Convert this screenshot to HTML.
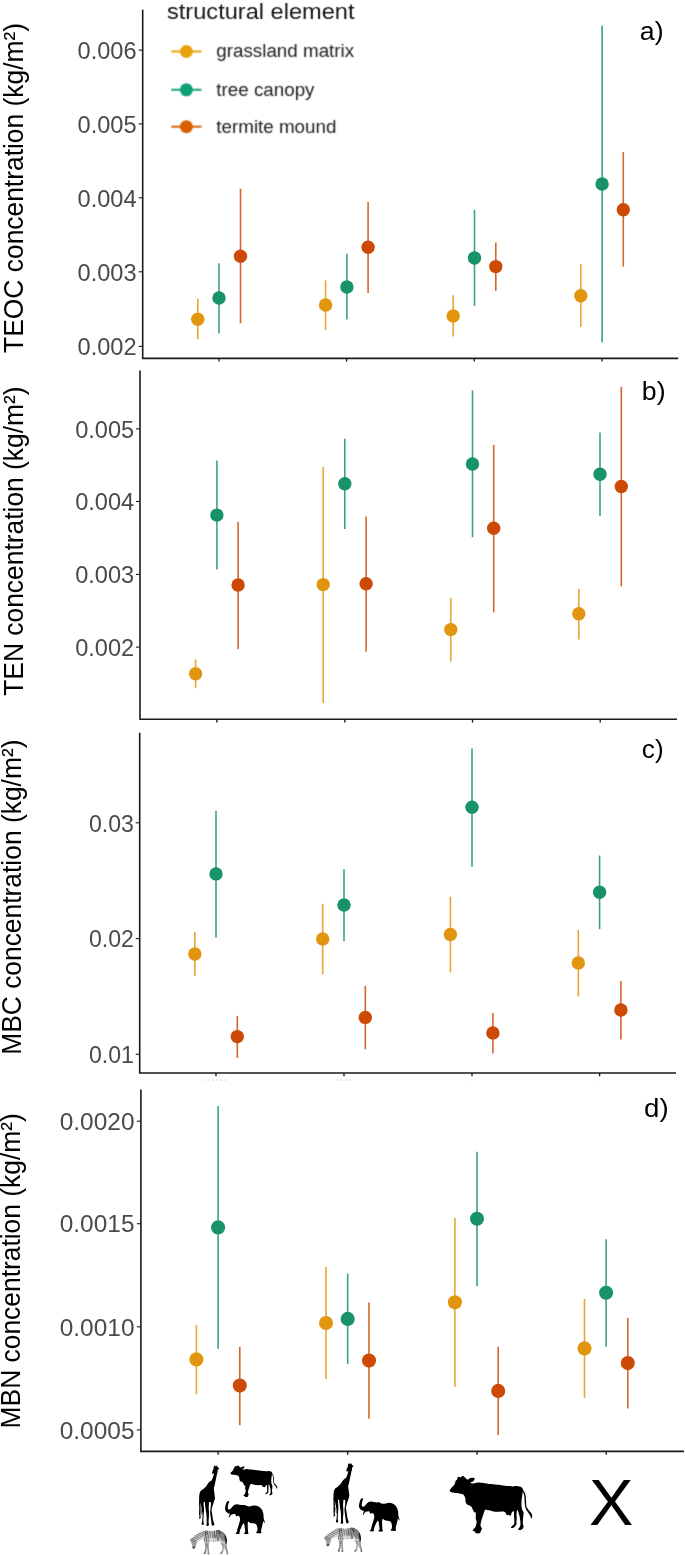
<!DOCTYPE html>
<html><head><meta charset="utf-8"><title>Figure</title>
<style>html,body{margin:0;padding:0;background:#fff;}body{width:685px;height:1556px;overflow:hidden;}svg{display:block;will-change:transform;}text{font-family:"Liberation Sans",sans-serif;}</style>
</head><body>
<svg width="685" height="1556" viewBox="0 0 685 1556">
<rect x="0" y="0" width="685" height="1556" fill="#ffffff"/>
<g id="panel-a">
<path d="M142.7 9.8 V358.4 H678.2" fill="none" stroke="#1a1a1a" stroke-width="1.6" stroke-linejoin="miter"/>
<line x1="219.0" y1="358.4" x2="219.0" y2="361.59999999999997" stroke="#1a1a1a" stroke-width="1.35"/>
<line x1="346.6" y1="358.4" x2="346.6" y2="361.59999999999997" stroke="#1a1a1a" stroke-width="1.35"/>
<line x1="474.3" y1="358.4" x2="474.3" y2="361.59999999999997" stroke="#1a1a1a" stroke-width="1.35"/>
<line x1="602.0" y1="358.4" x2="602.0" y2="361.59999999999997" stroke="#1a1a1a" stroke-width="1.35"/>
<line x1="138.7" y1="50.1" x2="142.7" y2="50.1" stroke="#1a1a1a" stroke-width="1.1"/>
<text transform="translate(136.6 58.8) scale(1.0,1)" font-size="23.6" fill="#4a4a4a" text-anchor="end">0.006</text>
<line x1="138.7" y1="123.9" x2="142.7" y2="123.9" stroke="#1a1a1a" stroke-width="1.1"/>
<text transform="translate(136.6 132.6) scale(1.0,1)" font-size="23.6" fill="#4a4a4a" text-anchor="end">0.005</text>
<line x1="138.7" y1="197.8" x2="142.7" y2="197.8" stroke="#1a1a1a" stroke-width="1.1"/>
<text transform="translate(136.6 206.5) scale(1.0,1)" font-size="23.6" fill="#4a4a4a" text-anchor="end">0.004</text>
<line x1="138.7" y1="271.8" x2="142.7" y2="271.8" stroke="#1a1a1a" stroke-width="1.1"/>
<text transform="translate(136.6 280.5) scale(1.0,1)" font-size="23.6" fill="#4a4a4a" text-anchor="end">0.003</text>
<line x1="138.7" y1="346.4" x2="142.7" y2="346.4" stroke="#1a1a1a" stroke-width="1.1"/>
<text transform="translate(136.6 354.5) scale(1.0,1)" font-size="23.6" fill="#4a4a4a" text-anchor="end">0.002</text>
<text transform="translate(23.2 187.9) rotate(-90) scale(1.0,1.02)" font-size="26.4" fill="#000" text-anchor="middle">TEOC concentration (kg/m²)</text>
<text transform="translate(639.8 40.4) scale(1.0,1)" font-size="26.7" fill="#000">a)</text>
<line x1="197.8" y1="298.8" x2="197.8" y2="339.3" stroke="#E2960F" stroke-width="1.6" stroke-opacity="0.85"/>
<line x1="219.0" y1="263.2" x2="219.0" y2="333.5" stroke="#17926A" stroke-width="1.6" stroke-opacity="0.85"/>
<line x1="240.5" y1="188.8" x2="240.5" y2="323.3" stroke="#CC4A06" stroke-width="1.6" stroke-opacity="0.85"/>
<line x1="325.6" y1="280.4" x2="325.6" y2="329.9" stroke="#E2960F" stroke-width="1.6" stroke-opacity="0.85"/>
<line x1="346.9" y1="253.8" x2="346.9" y2="319.6" stroke="#17926A" stroke-width="1.6" stroke-opacity="0.85"/>
<line x1="368.1" y1="201.9" x2="368.1" y2="293.0" stroke="#CC4A06" stroke-width="1.6" stroke-opacity="0.85"/>
<line x1="453.2" y1="295.2" x2="453.2" y2="336.5" stroke="#E2960F" stroke-width="1.6" stroke-opacity="0.85"/>
<line x1="474.5" y1="209.7" x2="474.5" y2="305.8" stroke="#17926A" stroke-width="1.6" stroke-opacity="0.85"/>
<line x1="495.8" y1="242.4" x2="495.8" y2="290.7" stroke="#CC4A06" stroke-width="1.6" stroke-opacity="0.85"/>
<line x1="580.8" y1="264.1" x2="580.8" y2="327.1" stroke="#E2960F" stroke-width="1.6" stroke-opacity="0.85"/>
<line x1="602.1" y1="25.8" x2="602.1" y2="342.2" stroke="#17926A" stroke-width="1.6" stroke-opacity="0.85"/>
<line x1="623.3" y1="152.1" x2="623.3" y2="266.6" stroke="#CC4A06" stroke-width="1.6" stroke-opacity="0.85"/>
<circle cx="197.8" cy="319.2" r="6.7" fill="#E2960F"/>
<circle cx="219.0" cy="298.0" r="6.7" fill="#17926A"/>
<circle cx="240.5" cy="256.3" r="6.7" fill="#CC4A06"/>
<circle cx="325.6" cy="305.0" r="6.7" fill="#E2960F"/>
<circle cx="346.9" cy="287.0" r="6.7" fill="#17926A"/>
<circle cx="368.1" cy="247.3" r="6.7" fill="#CC4A06"/>
<circle cx="453.2" cy="316.0" r="6.7" fill="#E2960F"/>
<circle cx="474.5" cy="258.0" r="6.7" fill="#17926A"/>
<circle cx="495.8" cy="266.6" r="6.7" fill="#CC4A06"/>
<circle cx="580.8" cy="295.8" r="6.7" fill="#E2960F"/>
<circle cx="602.1" cy="184.0" r="6.7" fill="#17926A"/>
<circle cx="623.3" cy="209.8" r="6.7" fill="#CC4A06"/>
</g>
<g id="panel-b">
<path d="M140.0 370.5 V719.3 H677.0" fill="none" stroke="#1a1a1a" stroke-width="1.6" stroke-linejoin="miter"/>
<line x1="216.9" y1="719.3" x2="216.9" y2="722.5999999999999" stroke="#1a1a1a" stroke-width="1.35"/>
<line x1="344.8" y1="719.3" x2="344.8" y2="722.5999999999999" stroke="#1a1a1a" stroke-width="1.35"/>
<line x1="472.5" y1="719.3" x2="472.5" y2="722.5999999999999" stroke="#1a1a1a" stroke-width="1.35"/>
<line x1="600.2" y1="719.3" x2="600.2" y2="722.5999999999999" stroke="#1a1a1a" stroke-width="1.35"/>
<line x1="136.0" y1="428.9" x2="140.0" y2="428.9" stroke="#1a1a1a" stroke-width="1.1"/>
<text transform="translate(134.2 437.6) scale(1.0,1)" font-size="23.6" fill="#4a4a4a" text-anchor="end">0.005</text>
<line x1="136.0" y1="501.5" x2="140.0" y2="501.5" stroke="#1a1a1a" stroke-width="1.1"/>
<text transform="translate(134.2 510.2) scale(1.0,1)" font-size="23.6" fill="#4a4a4a" text-anchor="end">0.004</text>
<line x1="136.0" y1="574.4" x2="140.0" y2="574.4" stroke="#1a1a1a" stroke-width="1.1"/>
<text transform="translate(134.2 583.1) scale(1.0,1)" font-size="23.6" fill="#4a4a4a" text-anchor="end">0.003</text>
<line x1="136.0" y1="647.1" x2="140.0" y2="647.1" stroke="#1a1a1a" stroke-width="1.1"/>
<text transform="translate(134.2 655.8) scale(1.0,1)" font-size="23.6" fill="#4a4a4a" text-anchor="end">0.002</text>
<text transform="translate(23.2 541.1) rotate(-90) scale(1.0,1.02)" font-size="26.4" fill="#000" text-anchor="middle">TEN concentration (kg/m²)</text>
<text transform="translate(641.8 399.8) scale(1.0,1)" font-size="26.7" fill="#000">b)</text>
<line x1="195.6" y1="659.5" x2="195.6" y2="688.1" stroke="#E2960F" stroke-width="1.6" stroke-opacity="0.85"/>
<line x1="216.9" y1="460.4" x2="216.9" y2="569.5" stroke="#17926A" stroke-width="1.6" stroke-opacity="0.85"/>
<line x1="238.1" y1="521.7" x2="238.1" y2="649.2" stroke="#CC4A06" stroke-width="1.6" stroke-opacity="0.85"/>
<line x1="323.2" y1="466.9" x2="323.2" y2="703.2" stroke="#E2960F" stroke-width="1.6" stroke-opacity="0.85"/>
<line x1="344.8" y1="438.7" x2="344.8" y2="529.0" stroke="#17926A" stroke-width="1.6" stroke-opacity="0.85"/>
<line x1="366.1" y1="516.4" x2="366.1" y2="651.7" stroke="#CC4A06" stroke-width="1.6" stroke-opacity="0.85"/>
<line x1="450.8" y1="598.1" x2="450.8" y2="661.5" stroke="#E2960F" stroke-width="1.6" stroke-opacity="0.85"/>
<line x1="472.5" y1="390.4" x2="472.5" y2="537.2" stroke="#17926A" stroke-width="1.6" stroke-opacity="0.85"/>
<line x1="493.7" y1="444.8" x2="493.7" y2="612.4" stroke="#CC4A06" stroke-width="1.6" stroke-opacity="0.85"/>
<line x1="578.8" y1="588.7" x2="578.8" y2="639.4" stroke="#E2960F" stroke-width="1.6" stroke-opacity="0.85"/>
<line x1="600.0" y1="432.6" x2="600.0" y2="516.0" stroke="#17926A" stroke-width="1.6" stroke-opacity="0.85"/>
<line x1="621.3" y1="386.8" x2="621.3" y2="586.3" stroke="#CC4A06" stroke-width="1.6" stroke-opacity="0.85"/>
<circle cx="195.6" cy="673.8" r="6.7" fill="#E2960F"/>
<circle cx="216.9" cy="515.1" r="6.7" fill="#17926A"/>
<circle cx="238.1" cy="585.0" r="6.7" fill="#CC4A06"/>
<circle cx="323.2" cy="584.6" r="6.7" fill="#E2960F"/>
<circle cx="344.8" cy="483.7" r="6.7" fill="#17926A"/>
<circle cx="366.1" cy="583.8" r="6.7" fill="#CC4A06"/>
<circle cx="450.8" cy="629.6" r="6.7" fill="#E2960F"/>
<circle cx="472.5" cy="464.0" r="6.7" fill="#17926A"/>
<circle cx="493.7" cy="528.2" r="6.7" fill="#CC4A06"/>
<circle cx="578.8" cy="613.7" r="6.7" fill="#E2960F"/>
<circle cx="600.0" cy="474.3" r="6.7" fill="#17926A"/>
<circle cx="621.3" cy="486.5" r="6.7" fill="#CC4A06"/>
</g>
<g id="panel-c">
<path d="M139.7 732.8 V1073.0 H676.0" fill="none" stroke="#1a1a1a" stroke-width="1.6" stroke-linejoin="miter"/>
<line x1="216.0" y1="1073.0" x2="216.0" y2="1076.3" stroke="#1a1a1a" stroke-width="1.35"/>
<line x1="344.0" y1="1073.0" x2="344.0" y2="1076.3" stroke="#1a1a1a" stroke-width="1.35"/>
<line x1="472.0" y1="1073.0" x2="472.0" y2="1076.3" stroke="#1a1a1a" stroke-width="1.35"/>
<line x1="599.6" y1="1073.0" x2="599.6" y2="1076.3" stroke="#1a1a1a" stroke-width="1.35"/>
<line x1="135.7" y1="822.8" x2="139.7" y2="822.8" stroke="#1a1a1a" stroke-width="1.1"/>
<text transform="translate(133.9 831.5) scale(0.98,1)" font-size="23.6" fill="#4a4a4a" text-anchor="end">0.03</text>
<line x1="135.7" y1="938.6" x2="139.7" y2="938.6" stroke="#1a1a1a" stroke-width="1.1"/>
<text transform="translate(133.9 947.3) scale(0.98,1)" font-size="23.6" fill="#4a4a4a" text-anchor="end">0.02</text>
<line x1="135.7" y1="1054.3" x2="139.7" y2="1054.3" stroke="#1a1a1a" stroke-width="1.1"/>
<text transform="translate(133.9 1063.0) scale(0.98,1)" font-size="23.6" fill="#4a4a4a" text-anchor="end">0.01</text>
<text transform="translate(20.75 897.2) rotate(-90) scale(1.0,1.02)" font-size="26.4" fill="#000" text-anchor="middle">MBC concentration (kg/m²)</text>
<text transform="translate(641.8 758.2) scale(0.98,1)" font-size="26.7" fill="#000">c)</text>
<line x1="194.8" y1="932.0" x2="194.8" y2="976.1" stroke="#E2960F" stroke-width="1.6" stroke-opacity="0.85"/>
<line x1="216.0" y1="811.0" x2="216.0" y2="937.7" stroke="#17926A" stroke-width="1.6" stroke-opacity="0.85"/>
<line x1="237.3" y1="1015.8" x2="237.3" y2="1057.9" stroke="#CC4A06" stroke-width="1.6" stroke-opacity="0.85"/>
<line x1="322.7" y1="903.8" x2="322.7" y2="974.5" stroke="#E2960F" stroke-width="1.6" stroke-opacity="0.85"/>
<line x1="344.0" y1="869.0" x2="344.0" y2="941.0" stroke="#17926A" stroke-width="1.6" stroke-opacity="0.85"/>
<line x1="365.3" y1="985.9" x2="365.3" y2="1049.3" stroke="#CC4A06" stroke-width="1.6" stroke-opacity="0.85"/>
<line x1="450.4" y1="896.8" x2="450.4" y2="972.4" stroke="#E2960F" stroke-width="1.6" stroke-opacity="0.85"/>
<line x1="472.0" y1="748.4" x2="472.0" y2="867.0" stroke="#17926A" stroke-width="1.6" stroke-opacity="0.85"/>
<line x1="492.9" y1="1012.9" x2="492.9" y2="1053.4" stroke="#CC4A06" stroke-width="1.6" stroke-opacity="0.85"/>
<line x1="578.3" y1="929.9" x2="578.3" y2="996.6" stroke="#E2960F" stroke-width="1.6" stroke-opacity="0.85"/>
<line x1="599.6" y1="855.5" x2="599.6" y2="929.1" stroke="#17926A" stroke-width="1.6" stroke-opacity="0.85"/>
<line x1="620.9" y1="981.0" x2="620.9" y2="1039.5" stroke="#CC4A06" stroke-width="1.6" stroke-opacity="0.85"/>
<circle cx="194.8" cy="954.0" r="6.7" fill="#E2960F"/>
<circle cx="216.0" cy="873.9" r="6.7" fill="#17926A"/>
<circle cx="237.3" cy="1036.6" r="6.7" fill="#CC4A06"/>
<circle cx="322.7" cy="938.9" r="6.7" fill="#E2960F"/>
<circle cx="344.0" cy="905.0" r="6.7" fill="#17926A"/>
<circle cx="365.3" cy="1017.4" r="6.7" fill="#CC4A06"/>
<circle cx="450.4" cy="934.4" r="6.7" fill="#E2960F"/>
<circle cx="472.0" cy="807.3" r="6.7" fill="#17926A"/>
<circle cx="492.9" cy="1032.9" r="6.7" fill="#CC4A06"/>
<circle cx="578.3" cy="963.0" r="6.7" fill="#E2960F"/>
<circle cx="599.6" cy="892.3" r="6.7" fill="#17926A"/>
<circle cx="620.9" cy="1010.0" r="6.7" fill="#CC4A06"/>
</g>
<g id="panel-d">
<path d="M140.9 1089.4 V1451.4 H684.0" fill="none" stroke="#1a1a1a" stroke-width="1.6" stroke-linejoin="miter"/>
<line x1="218.1" y1="1451.4" x2="218.1" y2="1454.8000000000002" stroke="#1a1a1a" stroke-width="1.35"/>
<line x1="347.7" y1="1451.4" x2="347.7" y2="1454.8000000000002" stroke="#1a1a1a" stroke-width="1.35"/>
<line x1="477.0" y1="1451.4" x2="477.0" y2="1454.8000000000002" stroke="#1a1a1a" stroke-width="1.35"/>
<line x1="606.2" y1="1451.4" x2="606.2" y2="1454.8000000000002" stroke="#1a1a1a" stroke-width="1.35"/>
<line x1="136.9" y1="1121.2" x2="140.9" y2="1121.2" stroke="#1a1a1a" stroke-width="1.1"/>
<text transform="translate(134.5 1129.9) scale(1.036,1)" font-size="23.6" fill="#4a4a4a" text-anchor="end">0.0020</text>
<line x1="136.9" y1="1223.7" x2="140.9" y2="1223.7" stroke="#1a1a1a" stroke-width="1.1"/>
<text transform="translate(134.5 1232.4) scale(1.036,1)" font-size="23.6" fill="#4a4a4a" text-anchor="end">0.0015</text>
<line x1="136.9" y1="1326.8" x2="140.9" y2="1326.8" stroke="#1a1a1a" stroke-width="1.1"/>
<text transform="translate(134.5 1335.5) scale(1.036,1)" font-size="23.6" fill="#4a4a4a" text-anchor="end">0.0010</text>
<line x1="136.9" y1="1429.9" x2="140.9" y2="1429.9" stroke="#1a1a1a" stroke-width="1.1"/>
<text transform="translate(134.5 1438.6) scale(1.036,1)" font-size="23.6" fill="#4a4a4a" text-anchor="end">0.0005</text>
<text transform="translate(20.0 1270.8) rotate(-90) scale(1.0,1.02)" font-size="26.4" fill="#000" text-anchor="middle">MBN concentration (kg/m²)</text>
<text transform="translate(644.0 1117.0) scale(1.036,1)" font-size="26.7" fill="#000">d)</text>
<line x1="196.4" y1="1325.1" x2="196.4" y2="1394.2" stroke="#E2960F" stroke-width="1.6" stroke-opacity="0.85"/>
<line x1="218.1" y1="1105.9" x2="218.1" y2="1348.8" stroke="#17926A" stroke-width="1.6" stroke-opacity="0.85"/>
<line x1="239.8" y1="1346.7" x2="239.8" y2="1425.2" stroke="#CC4A06" stroke-width="1.6" stroke-opacity="0.85"/>
<line x1="326.0" y1="1267.0" x2="326.0" y2="1379.0" stroke="#E2960F" stroke-width="1.6" stroke-opacity="0.85"/>
<line x1="347.7" y1="1273.6" x2="347.7" y2="1363.9" stroke="#17926A" stroke-width="1.6" stroke-opacity="0.85"/>
<line x1="369.0" y1="1302.6" x2="369.0" y2="1418.7" stroke="#CC4A06" stroke-width="1.6" stroke-opacity="0.85"/>
<line x1="454.9" y1="1218.0" x2="454.9" y2="1386.8" stroke="#E2960F" stroke-width="1.6" stroke-opacity="0.85"/>
<line x1="477.0" y1="1151.7" x2="477.0" y2="1286.2" stroke="#17926A" stroke-width="1.6" stroke-opacity="0.85"/>
<line x1="498.2" y1="1346.7" x2="498.2" y2="1435.1" stroke="#CC4A06" stroke-width="1.6" stroke-opacity="0.85"/>
<line x1="584.5" y1="1298.9" x2="584.5" y2="1397.9" stroke="#E2960F" stroke-width="1.6" stroke-opacity="0.85"/>
<line x1="606.1" y1="1239.2" x2="606.1" y2="1346.7" stroke="#17926A" stroke-width="1.6" stroke-opacity="0.85"/>
<line x1="627.8" y1="1318.1" x2="627.8" y2="1408.5" stroke="#CC4A06" stroke-width="1.6" stroke-opacity="0.85"/>
<circle cx="196.4" cy="1359.4" r="7.05" fill="#E2960F"/>
<circle cx="218.1" cy="1227.4" r="7.05" fill="#17926A"/>
<circle cx="239.8" cy="1385.6" r="7.05" fill="#CC4A06"/>
<circle cx="326.0" cy="1323.0" r="7.05" fill="#E2960F"/>
<circle cx="347.7" cy="1318.9" r="7.05" fill="#17926A"/>
<circle cx="369.0" cy="1360.6" r="7.05" fill="#CC4A06"/>
<circle cx="454.9" cy="1302.2" r="7.05" fill="#E2960F"/>
<circle cx="477.0" cy="1218.8" r="7.05" fill="#17926A"/>
<circle cx="498.2" cy="1390.9" r="7.05" fill="#CC4A06"/>
<circle cx="584.5" cy="1348.4" r="7.05" fill="#E2960F"/>
<circle cx="606.1" cy="1292.8" r="7.05" fill="#17926A"/>
<circle cx="627.8" cy="1363.1" r="7.05" fill="#CC4A06"/>
</g>
<defs><filter id="lgblur" x="-5%" y="-20%" width="110%" height="140%"><feConvolveMatrix order="3" kernelMatrix="0.6 2 0.6 2 9 2 0.6 2 0.6" edgeMode="none" preserveAlpha="false"/></filter>
<filter id="ltblur" x="-5%" y="-20%" width="110%" height="140%"><feConvolveMatrix order="3" kernelMatrix="0.3 1.2 0.3 1.2 10 1.2 0.3 1.2 0.3" edgeMode="none" preserveAlpha="false"/></filter></defs>
<g id="legend">
<text transform="translate(167.0 19.1) scale(1.068,1)" font-size="22.1" fill="#151515" filter="url(#ltblur)">structural element</text>
<g filter="url(#lgblur)">
<line x1="171.3" y1="51.5" x2="201.5" y2="51.5" stroke="#E9A00C" stroke-width="2.2" stroke-opacity="0.9"/>
<circle cx="186.4" cy="51.5" r="6.5" fill="#E9A00C"/>
<text transform="translate(216.3 57.3) scale(1.056,1)" font-size="17.8" fill="#202020">grassland matrix</text>
<line x1="171.3" y1="89.8" x2="201.5" y2="89.8" stroke="#0F9F76" stroke-width="2.2" stroke-opacity="0.9"/>
<circle cx="186.4" cy="89.8" r="6.5" fill="#0F9F76"/>
<text transform="translate(216.3 95.6) scale(1.056,1)" font-size="17.8" fill="#202020">tree canopy</text>
<line x1="171.3" y1="126.7" x2="201.5" y2="126.7" stroke="#D85F06" stroke-width="2.2" stroke-opacity="0.9"/>
<circle cx="186.4" cy="126.7" r="6.5" fill="#D85F06"/>
<text transform="translate(216.3 132.5) scale(1.056,1)" font-size="17.8" fill="#202020">termite mound</text>
</g>
</g>
<g id="faint" stroke="#c9c9c9" stroke-width="1" stroke-dasharray="1.6 2.6">
<line x1="203.5" y1="1080" x2="226.5" y2="1080"/>
<line x1="336.5" y1="1080" x2="353.5" y2="1080"/>
<line x1="471.0" y1="1080" x2="473.5" y2="1080" stroke="#dddddd"/>
<line x1="598.5" y1="1080" x2="601.0" y2="1080" stroke="#dddddd"/>
</g>
<text transform="translate(589.0 1525.3) scale(1.04,1)" font-size="64" fill="#000">X</text>
<g id="animals" fill="#000">
<path d="M214.48 1465.59C214.80 1465.46 215.23 1466.31 215.65 1466.29C216.07 1466.27 216.65 1465.30 216.99 1465.47C217.33 1465.65 217.33 1466.86 217.69 1467.34C218.05 1467.83 219.13 1467.96 219.15 1468.39C219.17 1468.83 218.07 1469.37 217.81 1469.97C217.55 1470.57 217.74 1471.19 217.58 1472.01C217.41 1472.84 217.07 1473.86 216.82 1474.93C216.56 1476.00 216.32 1477.17 216.06 1478.44C215.80 1479.70 215.50 1481.26 215.24 1482.53C214.98 1483.79 214.72 1485.06 214.48 1486.03C214.25 1487.00 213.89 1487.39 213.84 1488.36C213.79 1489.34 214.05 1490.70 214.19 1491.87C214.33 1493.04 214.58 1494.30 214.66 1495.37C214.73 1496.44 214.81 1497.32 214.66 1498.29C214.50 1499.27 214.14 1500.55 213.72 1501.21C213.30 1501.87 212.85 1502.15 212.15 1502.26C211.45 1502.38 210.44 1501.94 209.52 1501.91C208.59 1501.88 207.57 1502.09 206.60 1502.09C205.63 1502.09 204.65 1501.88 203.68 1501.91C202.71 1501.94 201.44 1502.36 200.76 1502.26C200.08 1502.17 199.86 1501.89 199.59 1501.33C199.32 1500.76 199.17 1499.87 199.12 1498.88C199.08 1497.88 199.17 1496.44 199.30 1495.37C199.43 1494.30 199.59 1493.28 199.88 1492.45C200.18 1491.63 200.42 1491.04 201.05 1490.41C201.68 1489.78 202.85 1489.29 203.68 1488.66C204.51 1488.02 205.33 1487.44 206.01 1486.61C206.70 1485.79 207.09 1484.57 207.77 1483.69C208.45 1482.82 209.42 1481.99 210.10 1481.36C210.78 1480.73 211.37 1480.68 211.85 1479.90C212.34 1479.12 212.68 1477.71 213.02 1476.69C213.36 1475.66 214.04 1474.27 213.90 1473.77C213.75 1473.26 212.39 1474.09 212.15 1473.65C211.90 1473.21 212.24 1471.85 212.44 1471.14C212.63 1470.43 213.10 1470.07 213.31 1469.39C213.53 1468.71 213.53 1467.68 213.72 1467.05C213.92 1466.42 214.16 1465.72 214.48 1465.59Z"/>
<path d="M214.79 1496.80C215.38 1496.96 214.75 1498.67 214.56 1499.61C214.37 1500.54 213.94 1501.48 213.63 1502.41C213.31 1503.35 212.96 1504.28 212.69 1505.21C212.42 1506.15 212.18 1507.16 211.99 1508.02C211.80 1508.87 211.52 1509.58 211.52 1510.35C211.52 1511.13 211.83 1511.76 211.99 1512.69C212.15 1513.63 212.30 1514.87 212.46 1515.96C212.61 1517.05 212.73 1518.22 212.92 1519.23C213.12 1520.25 213.39 1521.26 213.63 1522.04C213.86 1522.81 214.29 1523.36 214.33 1523.91C214.37 1524.45 214.13 1525.00 213.86 1525.31C213.59 1525.62 213.04 1525.85 212.69 1525.77C212.34 1525.70 211.97 1525.46 211.76 1524.84C211.54 1524.22 211.54 1523.13 211.38 1522.04C211.23 1520.95 210.99 1519.54 210.82 1518.30C210.65 1517.05 210.47 1515.65 210.35 1514.56C210.24 1513.47 210.12 1512.54 210.12 1511.76C210.12 1510.98 210.25 1510.67 210.35 1509.89C210.46 1509.11 210.63 1508.02 210.73 1507.08C210.82 1506.15 210.90 1505.14 210.92 1504.28C210.93 1503.42 210.80 1502.88 210.82 1501.94C210.85 1501.01 210.39 1499.53 211.06 1498.67C211.72 1497.82 214.21 1496.65 214.79 1496.80Z"/>
<path d="M209.05 1501.94C209.07 1503.03 208.91 1504.20 208.86 1505.21C208.80 1506.23 208.72 1507.16 208.72 1508.02C208.72 1508.87 208.80 1509.58 208.86 1510.35C208.91 1511.13 209.03 1511.76 209.05 1512.69C209.06 1513.63 209.01 1514.87 208.95 1515.96C208.90 1517.05 208.78 1518.22 208.72 1519.23C208.66 1520.25 208.56 1521.18 208.58 1522.04C208.60 1522.89 208.87 1523.75 208.86 1524.37C208.84 1525.00 208.78 1525.50 208.49 1525.77C208.19 1526.05 207.46 1526.09 207.08 1526.01C206.71 1525.93 206.32 1525.66 206.24 1525.31C206.16 1524.96 206.54 1524.61 206.62 1523.91C206.69 1523.20 206.71 1522.19 206.71 1521.10C206.71 1520.01 206.67 1518.53 206.62 1517.36C206.56 1516.20 206.50 1515.11 206.38 1514.09C206.27 1513.08 206.07 1512.30 205.92 1511.29C205.76 1510.28 205.58 1509.03 205.45 1508.02C205.32 1507.01 205.22 1506.15 205.12 1505.21C205.02 1504.28 204.83 1503.50 204.84 1502.41C204.86 1501.32 204.57 1499.30 205.21 1498.67C205.86 1498.05 208.08 1498.13 208.72 1498.67C209.36 1499.22 209.02 1500.85 209.05 1501.94Z"/>
<path d="M203.58 1502.18C203.64 1503.27 203.66 1504.24 203.72 1505.21C203.77 1506.19 203.85 1507.16 203.91 1508.02C203.96 1508.87 204.06 1509.58 204.05 1510.35C204.03 1511.13 203.89 1511.83 203.81 1512.69C203.73 1513.55 203.63 1514.56 203.58 1515.49C203.52 1516.43 203.52 1517.36 203.49 1518.30C203.45 1519.23 203.31 1520.32 203.35 1521.10C203.38 1521.88 203.63 1522.46 203.72 1522.97C203.81 1523.48 204.01 1523.83 203.91 1524.14C203.80 1524.45 203.44 1524.76 203.11 1524.84C202.78 1524.92 202.22 1524.80 201.94 1524.61C201.67 1524.41 201.46 1524.10 201.48 1523.67C201.49 1523.24 201.90 1522.78 202.04 1522.04C202.18 1521.30 202.24 1520.25 202.32 1519.23C202.40 1518.22 202.50 1516.97 202.50 1515.96C202.50 1514.95 202.41 1514.01 202.32 1513.16C202.22 1512.30 202.08 1511.68 201.94 1510.82C201.80 1509.97 201.63 1508.87 201.48 1508.02C201.32 1507.16 201.20 1506.46 201.01 1505.68C200.81 1504.90 200.58 1504.05 200.31 1503.35C200.04 1502.64 199.41 1502.26 199.37 1501.48C199.33 1500.70 199.41 1499.14 200.07 1498.67C200.74 1498.21 202.76 1498.09 203.35 1498.67C203.93 1499.26 203.52 1501.09 203.58 1502.18Z"/>
<path d="M199.23 1500.07C199.02 1500.07 199.05 1502.02 199.05 1503.35C199.05 1504.67 199.22 1506.62 199.23 1508.02C199.25 1509.42 199.17 1510.67 199.14 1511.76C199.11 1512.85 198.98 1513.86 199.05 1514.56C199.11 1515.26 199.50 1515.34 199.51 1515.96C199.53 1516.58 199.05 1517.83 199.14 1518.30C199.23 1518.77 199.80 1518.92 200.07 1518.77C200.35 1518.61 200.71 1517.91 200.78 1517.36C200.84 1516.82 200.49 1516.27 200.45 1515.49C200.41 1514.72 200.51 1513.70 200.54 1512.69C200.57 1511.68 200.64 1510.51 200.64 1509.42C200.64 1508.33 200.60 1507.16 200.54 1506.15C200.49 1505.14 200.53 1504.36 200.31 1503.35C200.09 1502.33 199.44 1500.07 199.23 1500.07Z"/>
<path d="M201.01 1509.42C201.13 1508.99 201.77 1510.12 202.04 1511.06C202.30 1511.99 202.60 1514.21 202.60 1515.03C202.60 1515.84 202.26 1516.20 202.04 1515.96C201.82 1515.73 201.46 1514.72 201.29 1513.63C201.12 1512.54 200.88 1509.85 201.01 1509.42Z" fill="#666"/>
<path d="M230.50 1473.20C230.58 1472.92 230.81 1472.63 231.11 1472.29C231.40 1471.96 231.88 1471.62 232.27 1471.17C232.66 1470.72 233.20 1470.08 233.43 1469.59C233.66 1469.10 233.47 1468.61 233.66 1468.24C233.86 1467.86 234.40 1467.64 234.60 1467.34C234.79 1467.04 234.69 1466.67 234.83 1466.44C234.97 1466.20 235.16 1465.98 235.43 1465.94C235.70 1465.90 236.09 1466.30 236.46 1466.21C236.82 1466.12 237.23 1465.44 237.62 1465.40C238.01 1465.36 238.43 1465.74 238.78 1465.99C239.13 1466.23 239.40 1466.64 239.71 1466.89C240.03 1467.13 240.34 1467.47 240.65 1467.47C240.96 1467.47 241.19 1467.06 241.58 1466.89C241.96 1466.71 242.51 1466.49 242.97 1466.44C243.44 1466.38 244.12 1466.42 244.37 1466.57C244.62 1466.72 244.58 1467.02 244.46 1467.34C244.35 1467.65 244.04 1468.20 243.67 1468.46C243.31 1468.73 242.35 1468.73 242.27 1468.91C242.20 1469.10 242.62 1469.55 243.21 1469.59C243.79 1469.63 244.95 1469.22 245.76 1469.14C246.58 1469.06 247.16 1469.06 248.09 1469.14C249.02 1469.22 250.19 1469.44 251.35 1469.59C252.51 1469.74 253.52 1469.87 255.07 1470.04C256.62 1470.21 259.06 1470.47 260.66 1470.63C262.26 1470.80 263.78 1470.92 264.65 1471.02C265.52 1471.11 265.20 1471.22 265.89 1471.21C266.59 1471.19 267.96 1470.86 268.82 1470.92C269.67 1470.98 270.46 1471.22 271.01 1471.56C271.56 1471.90 271.99 1472.27 272.11 1472.98C272.23 1473.68 271.86 1474.92 271.74 1475.81C271.62 1476.69 271.46 1477.40 271.38 1478.29C271.29 1479.17 271.22 1480.29 271.23 1481.12C271.24 1481.95 271.33 1482.65 271.45 1483.24C271.57 1483.83 271.79 1484.25 271.96 1484.66C272.13 1485.07 272.42 1485.25 272.47 1485.72C272.53 1486.19 272.35 1486.84 272.29 1487.49C272.23 1488.14 272.15 1488.91 272.11 1489.62C272.06 1490.32 271.97 1491.15 272.03 1491.74C272.10 1492.33 272.49 1492.69 272.47 1493.16C272.45 1493.63 272.23 1494.22 271.92 1494.57C271.62 1494.93 271.07 1495.22 270.64 1495.28C270.22 1495.34 269.46 1495.16 269.37 1494.93C269.27 1494.69 269.88 1494.28 270.10 1493.87C270.31 1493.45 270.57 1493.04 270.64 1492.45C270.72 1491.86 270.63 1491.03 270.57 1490.32C270.51 1489.62 270.42 1488.91 270.28 1488.20C270.14 1487.49 269.91 1486.67 269.73 1486.08C269.55 1485.49 269.35 1484.94 269.18 1484.66C269.02 1484.38 268.87 1484.08 268.74 1484.38C268.62 1484.67 268.49 1485.73 268.45 1486.43C268.41 1487.13 268.54 1487.85 268.52 1488.55C268.51 1489.26 268.39 1490.09 268.38 1490.68C268.37 1491.27 268.62 1491.62 268.45 1492.09C268.28 1492.57 267.75 1493.17 267.35 1493.51C266.96 1493.85 266.43 1494.10 266.07 1494.15C265.72 1494.20 265.26 1493.99 265.23 1493.79C265.20 1493.60 265.60 1493.26 265.89 1492.98C266.18 1492.70 266.78 1492.54 266.99 1492.09C267.20 1491.65 267.16 1490.97 267.17 1490.32C267.18 1489.68 267.09 1488.91 267.06 1488.20C267.03 1487.49 267.02 1486.62 266.99 1486.08C266.95 1485.53 267.02 1485.06 266.84 1484.94C266.66 1484.83 266.14 1485.06 265.89 1485.37C265.64 1485.67 265.56 1486.46 265.34 1486.78C265.13 1487.11 264.86 1487.32 264.61 1487.32C264.37 1487.32 264.12 1486.81 263.88 1486.78C263.64 1486.75 263.37 1487.17 263.15 1487.14C262.92 1487.11 262.68 1486.84 262.53 1486.61C262.37 1486.37 262.47 1485.99 262.23 1485.72C262.00 1485.46 261.56 1485.14 261.14 1485.01C260.71 1484.88 260.69 1485.07 259.68 1484.94C258.66 1484.81 254.95 1484.26 255.07 1484.23C255.19 1484.20 259.87 1484.63 260.39 1484.78C260.92 1484.93 259.05 1485.10 258.20 1485.13C257.35 1485.17 256.19 1485.12 255.28 1484.99C254.36 1484.86 253.45 1484.52 252.72 1484.35C251.98 1484.19 251.28 1483.97 250.89 1484.00C250.49 1484.03 250.55 1484.12 250.34 1484.53C250.13 1484.94 249.85 1485.80 249.61 1486.48C249.36 1487.16 249.12 1487.84 248.88 1488.60C248.63 1489.37 248.30 1490.37 248.14 1491.08C247.99 1491.79 247.90 1492.38 247.96 1492.85C248.02 1493.32 248.39 1493.59 248.51 1493.91C248.63 1494.24 248.77 1494.47 248.69 1494.80C248.61 1495.12 248.19 1495.54 248.04 1495.86C247.88 1496.19 248.04 1496.54 247.78 1496.75C247.52 1496.95 246.96 1497.07 246.50 1497.10C246.04 1497.13 245.31 1497.07 245.04 1496.92C244.76 1496.78 245.10 1496.42 244.85 1496.21C244.61 1496.01 243.76 1495.89 243.57 1495.68C243.39 1495.48 243.54 1495.27 243.76 1494.98C243.97 1494.68 244.58 1494.33 244.85 1493.91C245.13 1493.50 245.25 1493.03 245.40 1492.50C245.55 1491.97 245.77 1491.20 245.77 1490.73C245.77 1490.26 245.49 1490.14 245.40 1489.67C245.31 1489.19 245.25 1488.54 245.22 1487.89C245.19 1487.25 245.37 1486.21 245.22 1485.77C245.07 1485.33 244.58 1485.53 244.31 1485.24C244.03 1484.94 243.82 1484.44 243.57 1484.00C243.33 1483.56 243.15 1482.97 242.84 1482.58C242.54 1482.20 242.17 1481.94 241.75 1481.70C241.32 1481.46 240.65 1481.43 240.28 1481.17C239.92 1480.90 239.70 1480.52 239.55 1480.11C239.40 1479.69 239.38 1478.90 239.37 1478.69C239.36 1478.48 239.54 1479.11 239.48 1478.83C239.42 1478.55 239.25 1477.55 239.02 1477.03C238.78 1476.50 238.51 1475.97 238.09 1475.67C237.66 1475.37 237.12 1475.36 236.46 1475.22C235.80 1475.09 234.91 1474.98 234.13 1474.86C233.35 1474.75 232.38 1474.70 231.80 1474.55C231.22 1474.40 230.86 1474.19 230.64 1473.96C230.42 1473.74 230.42 1473.47 230.50 1473.20Z"/>
<path d="M272.03 1472.98C272.16 1472.95 272.75 1473.80 273.02 1474.39C273.29 1474.98 273.50 1475.75 273.64 1476.52C273.78 1477.28 273.81 1478.23 273.86 1479.00C273.91 1479.76 273.86 1480.47 273.94 1481.12C274.01 1481.77 274.06 1482.36 274.30 1482.89C274.55 1483.42 275.00 1483.83 275.40 1484.31C275.79 1484.78 276.36 1485.25 276.68 1485.72C277.00 1486.19 277.22 1486.67 277.30 1487.14C277.38 1487.61 277.26 1488.29 277.15 1488.55C277.05 1488.82 276.82 1488.91 276.68 1488.73C276.54 1488.55 276.53 1487.93 276.31 1487.49C276.10 1487.05 275.73 1486.55 275.40 1486.08C275.06 1485.60 274.62 1485.19 274.30 1484.66C273.98 1484.13 273.69 1483.54 273.50 1482.89C273.30 1482.24 273.21 1481.53 273.13 1480.77C273.05 1480.00 273.08 1479.05 273.02 1478.29C272.96 1477.52 272.89 1476.78 272.77 1476.16C272.64 1475.54 272.41 1475.10 272.29 1474.57C272.17 1474.04 271.91 1473.01 272.03 1472.98Z"/>
<path d="M228.03 1500.96C228.39 1500.89 229.03 1500.87 229.12 1501.26C229.22 1501.64 228.82 1502.47 228.61 1503.30C228.41 1504.13 228.00 1505.37 227.88 1506.22C227.76 1507.07 227.68 1507.86 227.88 1508.41C228.09 1508.96 228.61 1509.50 229.12 1509.50C229.64 1509.50 230.34 1508.96 230.95 1508.41C231.56 1507.86 232.17 1506.83 232.77 1506.22C233.38 1505.61 233.93 1505.10 234.60 1504.76C235.27 1504.42 235.94 1504.18 236.79 1504.18C237.64 1504.18 238.73 1504.60 239.71 1504.76C240.68 1504.92 241.78 1505.10 242.63 1505.12C243.48 1505.15 244.15 1504.78 244.82 1504.91C245.49 1505.03 245.91 1505.57 246.64 1505.85C247.37 1506.13 248.28 1506.58 249.20 1506.58C250.11 1506.58 251.14 1506.04 252.12 1505.85C253.09 1505.67 254.06 1505.43 255.04 1505.49C256.01 1505.55 257.04 1505.79 257.96 1506.22C258.87 1506.64 259.78 1507.31 260.51 1508.04C261.24 1508.77 261.85 1509.56 262.34 1510.60C262.82 1511.63 263.21 1513.03 263.43 1514.25C263.65 1515.46 263.53 1516.92 263.65 1517.90C263.77 1518.87 263.95 1519.36 264.16 1520.09C264.37 1520.82 264.85 1521.82 264.89 1522.28C264.93 1522.74 264.62 1523.04 264.38 1522.86C264.14 1522.68 263.65 1521.28 263.43 1521.18C263.21 1521.09 263.25 1521.61 263.07 1522.28C262.88 1522.95 262.58 1524.22 262.34 1525.20C262.09 1526.17 261.82 1527.14 261.61 1528.12C261.39 1529.09 261.05 1530.31 261.02 1531.04C261.00 1531.77 261.48 1532.11 261.46 1532.50C261.44 1532.89 261.58 1533.23 260.88 1533.37C260.17 1533.52 258.02 1533.52 257.23 1533.37C256.44 1533.23 256.13 1532.89 256.13 1532.50C256.13 1532.11 257.02 1531.77 257.23 1531.04C257.43 1530.31 257.43 1528.97 257.37 1528.12C257.31 1527.27 257.13 1526.60 256.86 1525.93C256.59 1525.26 256.44 1524.53 255.77 1524.10C255.10 1523.68 253.82 1523.62 252.85 1523.37C251.87 1523.13 250.72 1522.95 249.93 1522.64C249.14 1522.34 248.47 1521.12 248.10 1521.55C247.74 1521.97 247.77 1523.98 247.74 1525.20C247.70 1526.41 247.82 1527.69 247.88 1528.85C247.94 1530.00 247.98 1531.40 248.10 1532.13C248.22 1532.86 248.67 1532.90 248.61 1533.23C248.55 1533.55 248.37 1533.96 247.74 1534.10C247.10 1534.25 245.40 1534.25 244.82 1534.10C244.23 1533.96 244.17 1533.62 244.23 1533.23C244.29 1532.84 245.09 1532.62 245.18 1531.77C245.28 1530.91 244.94 1529.21 244.82 1528.12C244.70 1527.02 244.64 1525.99 244.45 1525.20C244.27 1524.41 244.03 1523.49 243.72 1523.37C243.42 1523.25 243.05 1523.80 242.63 1524.47C242.20 1525.14 241.59 1526.41 241.17 1527.39C240.74 1528.36 240.34 1529.48 240.07 1530.31C239.81 1531.13 239.60 1531.84 239.56 1532.35C239.53 1532.86 239.98 1533.10 239.85 1533.37C239.73 1533.64 239.44 1533.88 238.83 1533.96C238.22 1534.03 236.73 1533.96 236.20 1533.81C235.68 1533.66 235.57 1533.42 235.69 1533.08C235.82 1532.74 236.63 1532.47 236.93 1531.77C237.24 1531.06 237.24 1529.94 237.52 1528.85C237.80 1527.75 238.25 1526.41 238.61 1525.20C238.98 1523.98 239.46 1522.64 239.71 1521.55C239.95 1520.45 240.13 1519.48 240.07 1518.63C240.01 1517.78 239.71 1516.92 239.34 1516.44C238.98 1515.95 238.37 1515.71 237.88 1515.71C237.40 1515.71 236.79 1516.50 236.42 1516.44C236.06 1516.38 235.94 1515.77 235.69 1515.34C235.45 1514.92 235.45 1514.07 234.96 1513.88C234.48 1513.70 233.44 1514.04 232.77 1514.25C232.10 1514.45 231.44 1514.70 230.95 1515.12C230.46 1515.55 230.22 1516.44 229.85 1516.80C229.49 1517.17 228.84 1517.56 228.76 1517.31C228.67 1517.07 229.16 1515.91 229.34 1515.34C229.53 1514.77 230.07 1514.25 229.85 1513.88C229.64 1513.52 228.64 1513.52 228.03 1513.15C227.42 1512.79 226.69 1512.30 226.20 1511.69C225.72 1511.09 225.27 1510.29 225.11 1509.50C224.95 1508.71 225.11 1507.86 225.26 1506.95C225.40 1506.04 225.71 1504.91 225.99 1504.03C226.27 1503.15 226.59 1502.20 226.93 1501.69C227.27 1501.18 227.66 1501.04 228.03 1500.96Z"/>
<path d="M348.84 1463.32C349.16 1463.19 349.58 1464.04 350.00 1464.02C350.42 1464.00 351.01 1463.02 351.35 1463.20C351.69 1463.38 351.69 1464.58 352.05 1465.07C352.41 1465.56 353.49 1465.68 353.51 1466.12C353.53 1466.56 352.43 1467.09 352.16 1467.70C351.90 1468.30 352.10 1468.91 351.93 1469.74C351.76 1470.57 351.42 1471.59 351.17 1472.66C350.92 1473.73 350.67 1474.90 350.41 1476.16C350.15 1477.43 349.86 1478.99 349.59 1480.25C349.33 1481.52 349.07 1482.78 348.84 1483.75C348.60 1484.73 348.24 1485.12 348.19 1486.09C348.14 1487.06 348.41 1488.43 348.54 1489.59C348.68 1490.76 348.93 1492.03 349.01 1493.10C349.09 1494.17 349.17 1495.04 349.01 1496.02C348.85 1496.99 348.49 1498.28 348.08 1498.94C347.66 1499.60 347.20 1499.87 346.50 1499.99C345.80 1500.11 344.80 1499.67 343.87 1499.64C342.95 1499.61 341.93 1499.81 340.95 1499.81C339.98 1499.81 339.01 1499.61 338.03 1499.64C337.06 1499.67 335.79 1500.09 335.11 1499.99C334.43 1499.89 334.22 1499.62 333.94 1499.05C333.67 1498.49 333.53 1497.59 333.48 1496.60C333.43 1495.61 333.53 1494.17 333.65 1493.10C333.78 1492.03 333.94 1491.01 334.24 1490.18C334.53 1489.35 334.77 1488.77 335.40 1488.13C336.04 1487.50 337.21 1487.02 338.03 1486.38C338.86 1485.75 339.69 1485.17 340.37 1484.34C341.05 1483.51 341.44 1482.29 342.12 1481.42C342.80 1480.54 343.77 1479.72 344.46 1479.08C345.14 1478.45 345.72 1478.40 346.21 1477.62C346.69 1476.84 347.03 1475.43 347.38 1474.41C347.72 1473.39 348.40 1472.00 348.25 1471.49C348.11 1470.99 346.74 1471.81 346.50 1471.38C346.26 1470.94 346.60 1469.57 346.79 1468.86C346.99 1468.15 347.45 1467.79 347.67 1467.11C347.88 1466.43 347.88 1465.41 348.08 1464.78C348.27 1464.14 348.51 1463.44 348.84 1463.32Z"/>
<path d="M349.15 1494.53C349.73 1494.68 349.11 1496.40 348.91 1497.33C348.72 1498.27 348.29 1499.20 347.98 1500.14C347.67 1501.07 347.32 1502.01 347.04 1502.94C346.77 1503.87 346.54 1504.89 346.34 1505.74C346.15 1506.60 345.88 1507.30 345.88 1508.08C345.88 1508.86 346.19 1509.48 346.34 1510.42C346.50 1511.35 346.65 1512.60 346.81 1513.69C346.97 1514.78 347.08 1515.95 347.28 1516.96C347.47 1517.97 347.75 1518.98 347.98 1519.76C348.21 1520.54 348.64 1521.09 348.68 1521.63C348.72 1522.18 348.49 1522.72 348.21 1523.03C347.94 1523.34 347.39 1523.58 347.04 1523.50C346.69 1523.42 346.33 1523.19 346.11 1522.57C345.89 1521.94 345.89 1520.85 345.74 1519.76C345.58 1518.67 345.35 1517.27 345.18 1516.02C345.00 1514.78 344.82 1513.38 344.71 1512.29C344.59 1511.20 344.47 1510.26 344.47 1509.48C344.47 1508.70 344.61 1508.39 344.71 1507.61C344.81 1506.83 344.99 1505.74 345.08 1504.81C345.18 1503.87 345.25 1502.86 345.27 1502.01C345.28 1501.15 345.15 1500.60 345.18 1499.67C345.20 1498.73 344.75 1497.25 345.41 1496.40C346.07 1495.54 348.56 1494.37 349.15 1494.53Z"/>
<path d="M343.40 1499.67C343.42 1500.76 343.27 1501.93 343.21 1502.94C343.16 1503.95 343.07 1504.89 343.07 1505.74C343.07 1506.60 343.16 1507.30 343.21 1508.08C343.27 1508.86 343.38 1509.48 343.40 1510.42C343.42 1511.35 343.36 1512.60 343.31 1513.69C343.25 1514.78 343.13 1515.95 343.07 1516.96C343.01 1517.97 342.91 1518.91 342.93 1519.76C342.96 1520.62 343.23 1521.48 343.21 1522.10C343.20 1522.72 343.13 1523.23 342.84 1523.50C342.54 1523.77 341.81 1523.81 341.44 1523.73C341.06 1523.66 340.67 1523.38 340.60 1523.03C340.52 1522.68 340.89 1522.33 340.97 1521.63C341.05 1520.93 341.06 1519.92 341.06 1518.83C341.06 1517.74 341.02 1516.26 340.97 1515.09C340.92 1513.92 340.85 1512.83 340.74 1511.82C340.62 1510.81 340.42 1510.03 340.27 1509.01C340.11 1508.00 339.93 1506.76 339.80 1505.74C339.67 1504.73 339.58 1503.87 339.47 1502.94C339.37 1502.01 339.18 1501.23 339.19 1500.14C339.21 1499.05 338.92 1497.02 339.57 1496.40C340.21 1495.78 342.43 1495.85 343.07 1496.40C343.71 1496.94 343.38 1498.58 343.40 1499.67Z"/>
<path d="M337.93 1499.90C337.99 1500.99 338.02 1501.97 338.07 1502.94C338.13 1503.91 338.21 1504.89 338.26 1505.74C338.31 1506.60 338.42 1507.30 338.40 1508.08C338.38 1508.86 338.24 1509.56 338.17 1510.42C338.09 1511.27 337.99 1512.29 337.93 1513.22C337.88 1514.15 337.88 1515.09 337.84 1516.02C337.80 1516.96 337.66 1518.05 337.70 1518.83C337.74 1519.61 337.98 1520.19 338.07 1520.70C338.17 1521.20 338.36 1521.55 338.26 1521.86C338.16 1522.18 337.79 1522.49 337.47 1522.57C337.14 1522.64 336.57 1522.53 336.30 1522.33C336.02 1522.14 335.81 1521.83 335.83 1521.40C335.85 1520.97 336.25 1520.50 336.39 1519.76C336.53 1519.02 336.59 1517.97 336.67 1516.96C336.75 1515.95 336.86 1514.70 336.86 1513.69C336.86 1512.67 336.76 1511.74 336.67 1510.88C336.58 1510.03 336.44 1509.40 336.30 1508.55C336.16 1507.69 335.99 1506.60 335.83 1505.74C335.67 1504.89 335.56 1504.19 335.36 1503.41C335.17 1502.63 334.93 1501.77 334.66 1501.07C334.39 1500.37 333.77 1499.98 333.73 1499.20C333.69 1498.42 333.77 1496.87 334.43 1496.40C335.09 1495.93 337.11 1495.81 337.70 1496.40C338.28 1496.98 337.87 1498.81 337.93 1499.90Z"/>
<path d="M333.59 1497.80C333.38 1497.80 333.40 1499.75 333.40 1501.07C333.40 1502.39 333.57 1504.34 333.59 1505.74C333.60 1507.15 333.52 1508.39 333.49 1509.48C333.46 1510.57 333.34 1511.58 333.40 1512.29C333.46 1512.99 333.85 1513.06 333.87 1513.69C333.88 1514.31 333.40 1515.56 333.49 1516.02C333.59 1516.49 334.16 1516.65 334.43 1516.49C334.70 1516.34 335.07 1515.63 335.13 1515.09C335.19 1514.54 334.84 1514.00 334.80 1513.22C334.76 1512.44 334.86 1511.43 334.90 1510.42C334.93 1509.40 334.99 1508.24 334.99 1507.15C334.99 1506.06 334.95 1504.89 334.90 1503.87C334.84 1502.86 334.88 1502.08 334.66 1501.07C334.44 1500.06 333.80 1497.80 333.59 1497.80Z"/>
<path d="M335.36 1507.15C335.49 1506.72 336.13 1507.85 336.39 1508.78C336.66 1509.72 336.95 1511.93 336.95 1512.75C336.95 1513.57 336.61 1513.92 336.39 1513.69C336.17 1513.45 335.81 1512.44 335.64 1511.35C335.47 1510.26 335.24 1507.57 335.36 1507.15Z" fill="#666"/>
<path d="M361.98 1498.20C362.35 1498.13 363.00 1498.10 363.10 1498.49C363.20 1498.89 362.79 1499.72 362.58 1500.55C362.36 1501.39 361.95 1502.64 361.83 1503.50C361.71 1504.36 361.62 1505.15 361.83 1505.70C362.04 1506.26 362.58 1506.81 363.10 1506.81C363.62 1506.81 364.34 1506.26 364.96 1505.70C365.58 1505.15 366.20 1504.11 366.82 1503.50C367.44 1502.88 368.00 1502.37 368.68 1502.03C369.37 1501.68 370.05 1501.44 370.92 1501.44C371.79 1501.44 372.91 1501.87 373.90 1502.03C374.89 1502.18 376.01 1502.37 376.88 1502.39C377.75 1502.42 378.43 1502.05 379.11 1502.17C379.80 1502.30 380.23 1502.85 380.98 1503.13C381.72 1503.41 382.65 1503.86 383.58 1503.86C384.51 1503.86 385.57 1503.31 386.56 1503.13C387.56 1502.95 388.55 1502.70 389.54 1502.76C390.54 1502.82 391.59 1503.07 392.52 1503.50C393.45 1503.93 394.39 1504.60 395.13 1505.34C395.88 1506.07 396.50 1506.87 396.99 1507.91C397.49 1508.95 397.89 1510.36 398.11 1511.59C398.33 1512.82 398.21 1514.29 398.33 1515.27C398.46 1516.25 398.64 1516.74 398.86 1517.47C399.07 1518.21 399.56 1519.22 399.60 1519.68C399.64 1520.15 399.33 1520.45 399.08 1520.27C398.83 1520.09 398.33 1518.68 398.11 1518.58C397.89 1518.48 397.92 1519.01 397.74 1519.68C397.55 1520.36 397.24 1521.64 396.99 1522.62C396.74 1523.61 396.47 1524.59 396.25 1525.57C396.02 1526.55 395.68 1527.77 395.65 1528.51C395.63 1529.25 396.12 1529.59 396.10 1529.98C396.07 1530.37 396.22 1530.72 395.50 1530.86C394.78 1531.01 392.59 1531.01 391.78 1530.86C390.97 1530.72 390.66 1530.37 390.66 1529.98C390.66 1529.59 391.57 1529.25 391.78 1528.51C391.99 1527.77 391.99 1526.43 391.93 1525.57C391.86 1524.71 391.68 1524.03 391.41 1523.36C391.13 1522.69 390.97 1521.95 390.29 1521.52C389.61 1521.09 388.30 1521.03 387.31 1520.79C386.31 1520.54 385.14 1520.36 384.33 1520.05C383.52 1519.74 382.84 1518.52 382.47 1518.95C382.09 1519.38 382.13 1521.40 382.09 1522.62C382.06 1523.85 382.18 1525.14 382.24 1526.30C382.30 1527.47 382.34 1528.88 382.47 1529.61C382.59 1530.35 383.05 1530.39 382.99 1530.72C382.93 1531.05 382.74 1531.45 382.09 1531.60C381.45 1531.75 379.71 1531.75 379.11 1531.60C378.52 1531.45 378.46 1531.11 378.52 1530.72C378.58 1530.32 379.39 1530.10 379.49 1529.25C379.59 1528.39 379.24 1526.67 379.11 1525.57C378.99 1524.46 378.93 1523.42 378.74 1522.62C378.56 1521.83 378.31 1520.91 378.00 1520.79C377.69 1520.66 377.31 1521.21 376.88 1521.89C376.44 1522.56 375.82 1523.85 375.39 1524.83C374.95 1525.81 374.54 1526.94 374.27 1527.77C374.00 1528.61 373.79 1529.32 373.75 1529.83C373.71 1530.35 374.17 1530.59 374.05 1530.86C373.92 1531.13 373.63 1531.38 373.01 1531.45C372.38 1531.53 370.86 1531.45 370.32 1531.31C369.79 1531.16 369.68 1530.91 369.80 1530.57C369.93 1530.23 370.76 1529.96 371.07 1529.25C371.38 1528.53 371.38 1527.41 371.66 1526.30C371.95 1525.20 372.41 1523.85 372.78 1522.62C373.15 1521.40 373.65 1520.05 373.90 1518.95C374.15 1517.84 374.33 1516.86 374.27 1516.00C374.21 1515.15 373.90 1514.29 373.53 1513.80C373.15 1513.31 372.53 1513.06 372.04 1513.06C371.54 1513.06 370.92 1513.86 370.55 1513.80C370.17 1513.74 370.05 1513.12 369.80 1512.69C369.55 1512.26 369.55 1511.41 369.06 1511.22C368.56 1511.04 367.50 1511.38 366.82 1511.59C366.14 1511.80 365.46 1512.04 364.96 1512.47C364.46 1512.90 364.21 1513.80 363.84 1514.16C363.47 1514.53 362.81 1514.92 362.72 1514.68C362.64 1514.43 363.13 1513.27 363.32 1512.69C363.51 1512.12 364.07 1511.59 363.84 1511.22C363.62 1510.85 362.60 1510.85 361.98 1510.49C361.36 1510.12 360.61 1509.63 360.12 1509.01C359.62 1508.40 359.16 1507.60 359.00 1506.81C358.84 1506.01 359.00 1505.15 359.15 1504.23C359.30 1503.31 359.61 1502.17 359.89 1501.29C360.18 1500.41 360.51 1499.45 360.86 1498.94C361.21 1498.42 361.61 1498.27 361.98 1498.20Z"/>
<path d="M449.89 1490.03C450.02 1489.53 450.43 1489.01 450.95 1488.39C451.47 1487.78 452.31 1487.17 452.99 1486.35C453.67 1485.53 454.63 1484.37 455.04 1483.49C455.45 1482.60 455.10 1481.72 455.45 1481.04C455.79 1480.36 456.74 1479.95 457.08 1479.40C457.42 1478.86 457.24 1478.19 457.49 1477.77C457.73 1477.34 458.07 1476.94 458.55 1476.87C459.03 1476.80 459.71 1477.52 460.35 1477.36C460.99 1477.19 461.71 1475.95 462.39 1475.89C463.08 1475.82 463.82 1476.50 464.44 1476.95C465.05 1477.40 465.53 1478.13 466.07 1478.58C466.62 1479.03 467.16 1479.65 467.71 1479.65C468.25 1479.65 468.66 1478.90 469.34 1478.58C470.02 1478.27 470.98 1477.86 471.80 1477.77C472.61 1477.67 473.81 1477.74 474.25 1478.01C474.68 1478.28 474.62 1478.83 474.41 1479.40C474.21 1479.97 473.66 1480.97 473.02 1481.45C472.38 1481.92 470.71 1481.92 470.57 1482.26C470.43 1482.60 471.18 1483.42 472.20 1483.49C473.23 1483.56 475.27 1482.81 476.70 1482.67C478.13 1482.54 479.15 1482.54 480.79 1482.67C482.42 1482.81 484.47 1483.22 486.51 1483.49C488.55 1483.76 490.33 1483.99 493.05 1484.31C495.78 1484.62 500.06 1485.08 502.86 1485.38C505.67 1485.67 508.34 1485.91 509.87 1486.08C511.40 1486.25 510.84 1486.45 512.06 1486.42C513.28 1486.39 515.70 1485.80 517.19 1485.91C518.69 1486.01 520.08 1486.44 521.05 1487.06C522.01 1487.68 522.76 1488.35 522.97 1489.63C523.19 1490.92 522.55 1493.16 522.33 1494.77C522.12 1496.38 521.84 1497.66 521.69 1499.27C521.54 1500.87 521.41 1502.91 521.43 1504.41C521.45 1505.90 521.60 1507.19 521.82 1508.26C522.03 1509.33 522.42 1510.08 522.72 1510.83C523.02 1511.58 523.52 1511.90 523.62 1512.76C523.71 1513.61 523.40 1514.79 523.30 1515.97C523.19 1517.15 523.05 1518.54 522.97 1519.82C522.90 1521.11 522.74 1522.60 522.85 1523.68C522.95 1524.75 523.65 1525.39 523.62 1526.24C523.59 1527.10 523.19 1528.17 522.65 1528.81C522.12 1529.46 521.15 1529.99 520.41 1530.10C519.66 1530.21 518.32 1529.88 518.16 1529.46C518.00 1529.03 519.07 1528.28 519.44 1527.53C519.82 1526.78 520.27 1526.03 520.41 1524.96C520.54 1523.89 520.38 1522.39 520.28 1521.11C520.17 1519.82 520.01 1518.54 519.76 1517.25C519.52 1515.97 519.12 1514.47 518.80 1513.40C518.48 1512.33 518.13 1511.34 517.84 1510.83C517.55 1510.32 517.28 1509.78 517.07 1510.32C516.85 1510.85 516.62 1512.78 516.55 1514.04C516.49 1515.30 516.70 1516.61 516.68 1517.89C516.66 1519.18 516.44 1520.68 516.42 1521.75C516.40 1522.82 516.85 1523.46 516.55 1524.32C516.25 1525.17 515.32 1526.27 514.62 1526.89C513.93 1527.51 513.00 1527.96 512.38 1528.04C511.76 1528.13 510.95 1527.75 510.90 1527.40C510.85 1527.05 511.54 1526.44 512.06 1525.92C512.57 1525.41 513.61 1525.12 513.98 1524.32C514.36 1523.51 514.28 1522.28 514.30 1521.11C514.32 1519.93 514.16 1518.54 514.11 1517.25C514.06 1515.97 514.05 1514.38 513.98 1513.40C513.92 1512.41 514.05 1511.56 513.73 1511.34C513.40 1511.13 512.49 1511.56 512.06 1512.11C511.62 1512.67 511.47 1514.09 511.09 1514.68C510.72 1515.27 510.24 1515.65 509.81 1515.65C509.38 1515.65 508.95 1514.74 508.52 1514.68C508.09 1514.63 507.63 1515.38 507.24 1515.33C506.84 1515.27 506.41 1514.79 506.15 1514.36C505.88 1513.93 506.04 1513.24 505.63 1512.76C505.23 1512.27 504.45 1511.71 503.71 1511.47C502.96 1511.24 502.91 1511.58 501.14 1511.34C499.36 1511.11 492.84 1510.10 493.05 1510.05C493.26 1510.00 501.48 1510.77 502.40 1511.05C503.31 1511.32 500.04 1511.62 498.55 1511.69C497.05 1511.75 495.01 1511.67 493.41 1511.43C491.80 1511.20 490.19 1510.57 488.91 1510.27C487.63 1509.97 486.39 1509.58 485.70 1509.63C485.00 1509.69 485.11 1509.85 484.74 1510.60C484.36 1511.34 483.88 1512.90 483.45 1514.13C483.02 1515.36 482.59 1516.59 482.17 1517.98C481.74 1519.37 481.15 1521.19 480.88 1522.48C480.61 1523.76 480.45 1524.83 480.56 1525.69C480.67 1526.55 481.31 1527.03 481.52 1527.62C481.74 1528.21 481.98 1528.63 481.84 1529.22C481.71 1529.81 480.96 1530.56 480.69 1531.15C480.42 1531.74 480.69 1532.38 480.24 1532.76C479.79 1533.13 478.79 1533.34 477.99 1533.40C477.19 1533.45 475.90 1533.34 475.42 1533.08C474.94 1532.81 475.53 1532.17 475.10 1531.79C474.67 1531.42 473.17 1531.20 472.85 1530.83C472.53 1530.45 472.80 1530.08 473.17 1529.54C473.55 1529.01 474.62 1528.37 475.10 1527.62C475.58 1526.87 475.80 1526.01 476.06 1525.05C476.33 1524.08 476.71 1522.69 476.71 1521.84C476.71 1520.98 476.22 1520.77 476.06 1519.91C475.90 1519.05 475.80 1517.88 475.74 1516.70C475.69 1515.52 476.01 1513.65 475.74 1512.84C475.47 1512.04 474.62 1512.42 474.14 1511.88C473.66 1511.34 473.28 1510.44 472.85 1509.63C472.42 1508.83 472.10 1507.76 471.57 1507.06C471.03 1506.37 470.39 1505.89 469.64 1505.46C468.89 1505.03 467.71 1504.98 467.07 1504.49C466.43 1504.01 466.05 1503.32 465.79 1502.57C465.52 1501.82 465.49 1500.38 465.47 1500.00C465.45 1499.61 465.77 1500.75 465.66 1500.25C465.56 1499.75 465.26 1497.93 464.85 1496.98C464.44 1496.02 463.96 1495.07 463.21 1494.53C462.46 1493.98 461.51 1493.95 460.35 1493.71C459.19 1493.46 457.63 1493.26 456.26 1493.05C454.90 1492.85 453.20 1492.75 452.18 1492.48C451.15 1492.21 450.51 1491.83 450.13 1491.42C449.75 1491.01 449.75 1490.53 449.89 1490.03Z"/>
<path d="M522.85 1489.63C523.06 1489.58 524.11 1491.13 524.58 1492.20C525.05 1493.27 525.43 1494.66 525.67 1496.06C525.92 1497.45 525.97 1499.16 526.06 1500.55C526.14 1501.94 526.06 1503.23 526.19 1504.41C526.32 1505.58 526.40 1506.65 526.83 1507.62C527.26 1508.58 528.06 1509.33 528.76 1510.19C529.45 1511.04 530.45 1511.90 531.00 1512.76C531.56 1513.61 531.96 1514.47 532.10 1515.33C532.24 1516.18 532.02 1517.41 531.84 1517.89C531.66 1518.38 531.25 1518.54 531.00 1518.22C530.76 1517.89 530.74 1516.77 530.36 1515.97C529.99 1515.16 529.34 1514.25 528.76 1513.40C528.17 1512.54 527.39 1511.79 526.83 1510.83C526.27 1509.87 525.76 1508.79 525.42 1507.62C525.07 1506.44 524.91 1505.15 524.77 1503.76C524.63 1502.37 524.69 1500.66 524.58 1499.27C524.47 1497.88 524.35 1496.54 524.13 1495.41C523.92 1494.29 523.51 1493.49 523.30 1492.52C523.08 1491.56 522.63 1489.69 522.85 1489.63Z"/>
</g>
<g id="zebras">
<filter id="zblur" x="-10%" y="-10%" width="120%" height="120%"><feConvolveMatrix order="3" kernelMatrix="0.2 1 0.2 1 9 1 0.2 1 0.2" edgeMode="none" preserveAlpha="false"/></filter>
<g transform="translate(0.00 0.00)">
<clipPath id="zc1"><path d="M203.52 1530.66C202.35 1530.96 201.18 1531.65 200.02 1532.27C198.85 1532.89 197.62 1533.61 196.51 1534.37C195.40 1535.13 194.29 1536.08 193.36 1536.82C192.42 1537.57 191.49 1538.25 190.91 1538.86C190.32 1539.46 189.80 1539.79 189.85 1540.47C189.91 1541.15 190.91 1542.04 191.26 1542.92C191.61 1543.80 191.78 1544.91 191.96 1545.72C192.13 1546.54 192.07 1547.30 192.31 1547.83C192.54 1548.35 192.89 1548.82 193.36 1548.88C193.83 1548.94 194.70 1548.59 195.11 1548.18C195.52 1547.77 195.58 1547.07 195.81 1546.42C196.04 1545.78 196.28 1545.00 196.51 1544.32C196.75 1543.64 196.75 1542.92 197.21 1542.36C197.68 1541.80 198.50 1541.36 199.31 1540.96C200.13 1540.56 201.36 1540.05 202.12 1539.98C202.88 1539.91 203.46 1540.05 203.87 1540.54C204.28 1541.03 204.34 1541.94 204.57 1542.92C204.80 1543.90 205.21 1545.26 205.27 1546.42C205.33 1547.59 205.12 1548.99 204.92 1549.93C204.72 1550.86 204.31 1551.45 204.08 1552.03C203.85 1552.61 203.47 1553.08 203.52 1553.43C203.57 1553.78 204.01 1554.07 204.36 1554.13C204.71 1554.19 205.29 1554.19 205.62 1553.78C205.95 1553.37 206.11 1552.56 206.32 1551.68C206.53 1550.80 206.75 1549.40 206.88 1548.53C207.01 1547.65 207.01 1546.31 207.09 1546.42C207.17 1546.54 207.29 1548.29 207.37 1549.23C207.46 1550.16 207.58 1551.27 207.58 1552.03C207.58 1552.79 207.26 1553.37 207.37 1553.78C207.49 1554.19 207.97 1554.45 208.28 1554.48C208.60 1554.52 209.13 1554.46 209.27 1553.99C209.41 1553.53 209.21 1552.71 209.13 1551.68C209.04 1550.65 208.83 1549.05 208.78 1547.83C208.72 1546.60 208.66 1545.30 208.78 1544.32C208.89 1543.34 208.83 1542.40 209.48 1541.94C210.12 1541.48 211.52 1541.67 212.63 1541.59C213.74 1541.51 215.08 1541.51 216.13 1541.45C217.18 1541.39 218.24 1540.99 218.94 1541.24C219.64 1541.48 219.81 1542.17 220.34 1542.92C220.86 1543.67 221.74 1544.79 222.09 1545.72C222.44 1546.66 222.50 1547.59 222.44 1548.53C222.38 1549.46 222.09 1550.63 221.74 1551.33C221.39 1552.03 220.59 1552.36 220.34 1552.73C220.08 1553.11 220.02 1553.36 220.20 1553.57C220.37 1553.78 221.02 1554.07 221.39 1553.99C221.76 1553.91 222.09 1553.64 222.44 1553.08C222.79 1552.52 223.20 1551.45 223.49 1550.63C223.78 1549.81 223.90 1548.29 224.19 1548.18C224.48 1548.06 224.89 1549.29 225.24 1549.93C225.59 1550.57 226.08 1551.39 226.29 1552.03C226.50 1552.67 226.33 1553.41 226.50 1553.78C226.68 1554.16 227.07 1554.27 227.35 1554.27C227.63 1554.27 228.09 1554.27 228.19 1553.78C228.28 1553.29 228.10 1552.32 227.91 1551.33C227.71 1550.34 227.21 1548.99 227.00 1547.83C226.78 1546.66 226.64 1545.37 226.64 1544.32C226.64 1543.27 227.00 1542.57 227.00 1541.52C227.00 1540.47 226.88 1539.12 226.64 1538.02C226.41 1536.91 226.06 1535.80 225.59 1534.86C225.13 1533.93 224.60 1533.11 223.84 1532.41C223.08 1531.71 221.97 1531.07 221.04 1530.66C220.10 1530.25 219.40 1529.96 218.24 1529.96C217.07 1529.96 215.32 1530.48 214.03 1530.66C212.75 1530.83 211.69 1531.04 210.53 1531.01C209.36 1530.97 208.19 1530.51 207.02 1530.45C205.86 1530.39 204.69 1530.35 203.52 1530.66Z"/></clipPath>
<g clip-path="url(#zc1)"><g filter="url(#zblur)">
<path d="M203.52 1530.66C202.35 1530.96 201.18 1531.65 200.02 1532.27C198.85 1532.89 197.62 1533.61 196.51 1534.37C195.40 1535.13 194.29 1536.08 193.36 1536.82C192.42 1537.57 191.49 1538.25 190.91 1538.86C190.32 1539.46 189.80 1539.79 189.85 1540.47C189.91 1541.15 190.91 1542.04 191.26 1542.92C191.61 1543.80 191.78 1544.91 191.96 1545.72C192.13 1546.54 192.07 1547.30 192.31 1547.83C192.54 1548.35 192.89 1548.82 193.36 1548.88C193.83 1548.94 194.70 1548.59 195.11 1548.18C195.52 1547.77 195.58 1547.07 195.81 1546.42C196.04 1545.78 196.28 1545.00 196.51 1544.32C196.75 1543.64 196.75 1542.92 197.21 1542.36C197.68 1541.80 198.50 1541.36 199.31 1540.96C200.13 1540.56 201.36 1540.05 202.12 1539.98C202.88 1539.91 203.46 1540.05 203.87 1540.54C204.28 1541.03 204.34 1541.94 204.57 1542.92C204.80 1543.90 205.21 1545.26 205.27 1546.42C205.33 1547.59 205.12 1548.99 204.92 1549.93C204.72 1550.86 204.31 1551.45 204.08 1552.03C203.85 1552.61 203.47 1553.08 203.52 1553.43C203.57 1553.78 204.01 1554.07 204.36 1554.13C204.71 1554.19 205.29 1554.19 205.62 1553.78C205.95 1553.37 206.11 1552.56 206.32 1551.68C206.53 1550.80 206.75 1549.40 206.88 1548.53C207.01 1547.65 207.01 1546.31 207.09 1546.42C207.17 1546.54 207.29 1548.29 207.37 1549.23C207.46 1550.16 207.58 1551.27 207.58 1552.03C207.58 1552.79 207.26 1553.37 207.37 1553.78C207.49 1554.19 207.97 1554.45 208.28 1554.48C208.60 1554.52 209.13 1554.46 209.27 1553.99C209.41 1553.53 209.21 1552.71 209.13 1551.68C209.04 1550.65 208.83 1549.05 208.78 1547.83C208.72 1546.60 208.66 1545.30 208.78 1544.32C208.89 1543.34 208.83 1542.40 209.48 1541.94C210.12 1541.48 211.52 1541.67 212.63 1541.59C213.74 1541.51 215.08 1541.51 216.13 1541.45C217.18 1541.39 218.24 1540.99 218.94 1541.24C219.64 1541.48 219.81 1542.17 220.34 1542.92C220.86 1543.67 221.74 1544.79 222.09 1545.72C222.44 1546.66 222.50 1547.59 222.44 1548.53C222.38 1549.46 222.09 1550.63 221.74 1551.33C221.39 1552.03 220.59 1552.36 220.34 1552.73C220.08 1553.11 220.02 1553.36 220.20 1553.57C220.37 1553.78 221.02 1554.07 221.39 1553.99C221.76 1553.91 222.09 1553.64 222.44 1553.08C222.79 1552.52 223.20 1551.45 223.49 1550.63C223.78 1549.81 223.90 1548.29 224.19 1548.18C224.48 1548.06 224.89 1549.29 225.24 1549.93C225.59 1550.57 226.08 1551.39 226.29 1552.03C226.50 1552.67 226.33 1553.41 226.50 1553.78C226.68 1554.16 227.07 1554.27 227.35 1554.27C227.63 1554.27 228.09 1554.27 228.19 1553.78C228.28 1553.29 228.10 1552.32 227.91 1551.33C227.71 1550.34 227.21 1548.99 227.00 1547.83C226.78 1546.66 226.64 1545.37 226.64 1544.32C226.64 1543.27 227.00 1542.57 227.00 1541.52C227.00 1540.47 226.88 1539.12 226.64 1538.02C226.41 1536.91 226.06 1535.80 225.59 1534.86C225.13 1533.93 224.60 1533.11 223.84 1532.41C223.08 1531.71 221.97 1531.07 221.04 1530.66C220.10 1530.25 219.40 1529.96 218.24 1529.96C217.07 1529.96 215.32 1530.48 214.03 1530.66C212.75 1530.83 211.69 1531.04 210.53 1531.01C209.36 1530.97 208.19 1530.51 207.02 1530.45C205.86 1530.39 204.69 1530.35 203.52 1530.66Z" fill="#e4e4e4"/>
<path d="M188.31 1538.44L194.90 1542.36M190.13 1537.17L196.72 1541.10M191.96 1535.91L198.54 1539.84M193.78 1534.65L200.37 1538.58M195.60 1533.39L202.19 1537.31M197.42 1532.13L204.01 1536.05M199.24 1530.87L205.83 1534.79M201.07 1529.61L207.65 1533.53" stroke="#1a1a1a" stroke-width="0.85" fill="none"/>
<path d="M206.15 1529.61L204.32 1542.36" stroke="#1a1a1a" stroke-width="0.83" fill="none"/>
<path d="M207.76 1529.61L206.25 1542.36" stroke="#1a1a1a" stroke-width="0.73" fill="none"/>
<path d="M209.51 1529.61L207.97 1542.36" stroke="#1a1a1a" stroke-width="0.61" fill="none"/>
<path d="M211.47 1529.61L209.57 1542.36" stroke="#1a1a1a" stroke-width="0.63" fill="none"/>
<path d="M213.22 1529.61L211.95 1542.36" stroke="#1a1a1a" stroke-width="0.64" fill="none"/>
<path d="M214.86 1529.61L213.42 1542.36" stroke="#1a1a1a" stroke-width="0.93" fill="none"/>
<path d="M216.81 1529.61L215.18 1542.36" stroke="#1a1a1a" stroke-width="0.94" fill="none"/>
<path d="M218.26 1529.61L217.02 1542.36" stroke="#1a1a1a" stroke-width="0.7" fill="none"/>
<path d="M220.07 1529.61L218.21 1542.36" stroke="#1a1a1a" stroke-width="0.71" fill="none"/>
<path d="M217.11 1528.91L222.23 1541.52M218.80 1529.75L223.91 1541.52M220.48 1530.59L225.59 1541.52M222.16 1531.43L227.28 1541.52M223.84 1532.27L228.96 1541.52" stroke="#1a1a1a" stroke-width="0.75" fill="none"/>
<rect x="202.12" y="1542.78" width="27.33" height="12.05" fill="#8c8c8c" fill-opacity="0.55"/>
<path d="M203.38 1543.76L206.74 1544.32M203.38 1545.58L206.74 1546.14M203.38 1547.41L206.74 1547.97M203.38 1549.23L206.74 1549.79M203.38 1551.05L206.74 1551.61M203.38 1552.87L206.74 1553.43M206.60 1543.76L209.97 1544.32M206.60 1545.58L209.97 1546.14M206.60 1547.41L209.97 1547.97M206.60 1549.23L209.97 1549.79M206.60 1551.05L209.97 1551.61M206.60 1552.87L209.97 1553.43M219.92 1543.76L223.28 1544.32M219.92 1545.58L223.28 1546.14M219.92 1547.41L223.28 1547.97M219.92 1549.23L223.28 1549.79M219.92 1551.05L223.28 1551.61M219.92 1552.87L223.28 1553.43M225.52 1543.76L228.89 1544.32M225.52 1545.58L228.89 1546.14M225.52 1547.41L228.89 1547.97M225.52 1549.23L228.89 1549.79M225.52 1551.05L228.89 1551.61M225.52 1552.87L228.89 1553.43" stroke="#444" stroke-width="0.6" fill="none"/>
<path d="M209.13 1538.37C210.06 1537.84 214.15 1537.61 215.43 1538.02C216.72 1538.42 217.77 1540.29 216.83 1540.82C215.90 1541.34 211.11 1541.58 209.83 1541.17C208.54 1540.76 208.19 1538.89 209.13 1538.37Z" fill="#f0f0f0" fill-opacity="0.7"/>
<path d="M190.20 1539.77C190.61 1539.12 192.54 1538.63 193.71 1539.07C194.88 1539.50 196.86 1541.08 197.21 1542.36C197.56 1543.64 196.57 1546.10 195.81 1546.78C195.05 1547.45 193.42 1547.07 192.66 1546.42C191.90 1545.78 191.66 1544.03 191.26 1542.92C190.85 1541.81 189.80 1540.41 190.20 1539.77Z" fill="#8a8a8a" fill-opacity="0.75"/>
<path d="M224.54 1535.56C224.75 1535.00 225.66 1535.47 226.08 1536.05C226.50 1536.64 226.93 1537.75 227.07 1539.07C227.21 1540.39 227.21 1543.27 226.93 1543.97C226.64 1544.67 225.73 1544.03 225.38 1543.27C225.03 1542.51 224.96 1540.70 224.82 1539.42C224.68 1538.13 224.33 1536.12 224.54 1535.56Z" fill="#111"/>
<path d="M192.45 1546.78C192.89 1546.54 194.50 1546.33 194.97 1546.56C195.44 1546.80 195.51 1547.78 195.25 1548.18C194.99 1548.57 193.92 1548.98 193.43 1548.95C192.94 1548.91 192.47 1548.33 192.31 1547.97C192.14 1547.60 192.00 1547.01 192.45 1546.78Z" fill="#333"/>
<ellipse cx="204.36" cy="1553.57" rx="1.0" ry="0.7" fill="#333"/>
<ellipse cx="208.28" cy="1554.13" rx="1.0" ry="0.7" fill="#333"/>
<ellipse cx="221.04" cy="1553.57" rx="1.0" ry="0.7" fill="#333"/>
<ellipse cx="227.35" cy="1553.92" rx="1.0" ry="0.7" fill="#333"/>
</g></g></g>
<g transform="translate(134.05 -2.36)">
<clipPath id="zc2"><path d="M203.52 1530.66C202.35 1530.96 201.18 1531.65 200.02 1532.27C198.85 1532.89 197.62 1533.61 196.51 1534.37C195.40 1535.13 194.29 1536.08 193.36 1536.82C192.42 1537.57 191.49 1538.25 190.91 1538.86C190.32 1539.46 189.80 1539.79 189.85 1540.47C189.91 1541.15 190.91 1542.04 191.26 1542.92C191.61 1543.80 191.78 1544.91 191.96 1545.72C192.13 1546.54 192.07 1547.30 192.31 1547.83C192.54 1548.35 192.89 1548.82 193.36 1548.88C193.83 1548.94 194.70 1548.59 195.11 1548.18C195.52 1547.77 195.58 1547.07 195.81 1546.42C196.04 1545.78 196.28 1545.00 196.51 1544.32C196.75 1543.64 196.75 1542.92 197.21 1542.36C197.68 1541.80 198.50 1541.36 199.31 1540.96C200.13 1540.56 201.36 1540.05 202.12 1539.98C202.88 1539.91 203.46 1540.05 203.87 1540.54C204.28 1541.03 204.34 1541.94 204.57 1542.92C204.80 1543.90 205.21 1545.26 205.27 1546.42C205.33 1547.59 205.12 1548.99 204.92 1549.93C204.72 1550.86 204.31 1551.45 204.08 1552.03C203.85 1552.61 203.47 1553.08 203.52 1553.43C203.57 1553.78 204.01 1554.07 204.36 1554.13C204.71 1554.19 205.29 1554.19 205.62 1553.78C205.95 1553.37 206.11 1552.56 206.32 1551.68C206.53 1550.80 206.75 1549.40 206.88 1548.53C207.01 1547.65 207.01 1546.31 207.09 1546.42C207.17 1546.54 207.29 1548.29 207.37 1549.23C207.46 1550.16 207.58 1551.27 207.58 1552.03C207.58 1552.79 207.26 1553.37 207.37 1553.78C207.49 1554.19 207.97 1554.45 208.28 1554.48C208.60 1554.52 209.13 1554.46 209.27 1553.99C209.41 1553.53 209.21 1552.71 209.13 1551.68C209.04 1550.65 208.83 1549.05 208.78 1547.83C208.72 1546.60 208.66 1545.30 208.78 1544.32C208.89 1543.34 208.83 1542.40 209.48 1541.94C210.12 1541.48 211.52 1541.67 212.63 1541.59C213.74 1541.51 215.08 1541.51 216.13 1541.45C217.18 1541.39 218.24 1540.99 218.94 1541.24C219.64 1541.48 219.81 1542.17 220.34 1542.92C220.86 1543.67 221.74 1544.79 222.09 1545.72C222.44 1546.66 222.50 1547.59 222.44 1548.53C222.38 1549.46 222.09 1550.63 221.74 1551.33C221.39 1552.03 220.59 1552.36 220.34 1552.73C220.08 1553.11 220.02 1553.36 220.20 1553.57C220.37 1553.78 221.02 1554.07 221.39 1553.99C221.76 1553.91 222.09 1553.64 222.44 1553.08C222.79 1552.52 223.20 1551.45 223.49 1550.63C223.78 1549.81 223.90 1548.29 224.19 1548.18C224.48 1548.06 224.89 1549.29 225.24 1549.93C225.59 1550.57 226.08 1551.39 226.29 1552.03C226.50 1552.67 226.33 1553.41 226.50 1553.78C226.68 1554.16 227.07 1554.27 227.35 1554.27C227.63 1554.27 228.09 1554.27 228.19 1553.78C228.28 1553.29 228.10 1552.32 227.91 1551.33C227.71 1550.34 227.21 1548.99 227.00 1547.83C226.78 1546.66 226.64 1545.37 226.64 1544.32C226.64 1543.27 227.00 1542.57 227.00 1541.52C227.00 1540.47 226.88 1539.12 226.64 1538.02C226.41 1536.91 226.06 1535.80 225.59 1534.86C225.13 1533.93 224.60 1533.11 223.84 1532.41C223.08 1531.71 221.97 1531.07 221.04 1530.66C220.10 1530.25 219.40 1529.96 218.24 1529.96C217.07 1529.96 215.32 1530.48 214.03 1530.66C212.75 1530.83 211.69 1531.04 210.53 1531.01C209.36 1530.97 208.19 1530.51 207.02 1530.45C205.86 1530.39 204.69 1530.35 203.52 1530.66Z"/></clipPath>
<g clip-path="url(#zc2)"><g filter="url(#zblur)">
<path d="M203.52 1530.66C202.35 1530.96 201.18 1531.65 200.02 1532.27C198.85 1532.89 197.62 1533.61 196.51 1534.37C195.40 1535.13 194.29 1536.08 193.36 1536.82C192.42 1537.57 191.49 1538.25 190.91 1538.86C190.32 1539.46 189.80 1539.79 189.85 1540.47C189.91 1541.15 190.91 1542.04 191.26 1542.92C191.61 1543.80 191.78 1544.91 191.96 1545.72C192.13 1546.54 192.07 1547.30 192.31 1547.83C192.54 1548.35 192.89 1548.82 193.36 1548.88C193.83 1548.94 194.70 1548.59 195.11 1548.18C195.52 1547.77 195.58 1547.07 195.81 1546.42C196.04 1545.78 196.28 1545.00 196.51 1544.32C196.75 1543.64 196.75 1542.92 197.21 1542.36C197.68 1541.80 198.50 1541.36 199.31 1540.96C200.13 1540.56 201.36 1540.05 202.12 1539.98C202.88 1539.91 203.46 1540.05 203.87 1540.54C204.28 1541.03 204.34 1541.94 204.57 1542.92C204.80 1543.90 205.21 1545.26 205.27 1546.42C205.33 1547.59 205.12 1548.99 204.92 1549.93C204.72 1550.86 204.31 1551.45 204.08 1552.03C203.85 1552.61 203.47 1553.08 203.52 1553.43C203.57 1553.78 204.01 1554.07 204.36 1554.13C204.71 1554.19 205.29 1554.19 205.62 1553.78C205.95 1553.37 206.11 1552.56 206.32 1551.68C206.53 1550.80 206.75 1549.40 206.88 1548.53C207.01 1547.65 207.01 1546.31 207.09 1546.42C207.17 1546.54 207.29 1548.29 207.37 1549.23C207.46 1550.16 207.58 1551.27 207.58 1552.03C207.58 1552.79 207.26 1553.37 207.37 1553.78C207.49 1554.19 207.97 1554.45 208.28 1554.48C208.60 1554.52 209.13 1554.46 209.27 1553.99C209.41 1553.53 209.21 1552.71 209.13 1551.68C209.04 1550.65 208.83 1549.05 208.78 1547.83C208.72 1546.60 208.66 1545.30 208.78 1544.32C208.89 1543.34 208.83 1542.40 209.48 1541.94C210.12 1541.48 211.52 1541.67 212.63 1541.59C213.74 1541.51 215.08 1541.51 216.13 1541.45C217.18 1541.39 218.24 1540.99 218.94 1541.24C219.64 1541.48 219.81 1542.17 220.34 1542.92C220.86 1543.67 221.74 1544.79 222.09 1545.72C222.44 1546.66 222.50 1547.59 222.44 1548.53C222.38 1549.46 222.09 1550.63 221.74 1551.33C221.39 1552.03 220.59 1552.36 220.34 1552.73C220.08 1553.11 220.02 1553.36 220.20 1553.57C220.37 1553.78 221.02 1554.07 221.39 1553.99C221.76 1553.91 222.09 1553.64 222.44 1553.08C222.79 1552.52 223.20 1551.45 223.49 1550.63C223.78 1549.81 223.90 1548.29 224.19 1548.18C224.48 1548.06 224.89 1549.29 225.24 1549.93C225.59 1550.57 226.08 1551.39 226.29 1552.03C226.50 1552.67 226.33 1553.41 226.50 1553.78C226.68 1554.16 227.07 1554.27 227.35 1554.27C227.63 1554.27 228.09 1554.27 228.19 1553.78C228.28 1553.29 228.10 1552.32 227.91 1551.33C227.71 1550.34 227.21 1548.99 227.00 1547.83C226.78 1546.66 226.64 1545.37 226.64 1544.32C226.64 1543.27 227.00 1542.57 227.00 1541.52C227.00 1540.47 226.88 1539.12 226.64 1538.02C226.41 1536.91 226.06 1535.80 225.59 1534.86C225.13 1533.93 224.60 1533.11 223.84 1532.41C223.08 1531.71 221.97 1531.07 221.04 1530.66C220.10 1530.25 219.40 1529.96 218.24 1529.96C217.07 1529.96 215.32 1530.48 214.03 1530.66C212.75 1530.83 211.69 1531.04 210.53 1531.01C209.36 1530.97 208.19 1530.51 207.02 1530.45C205.86 1530.39 204.69 1530.35 203.52 1530.66Z" fill="#e4e4e4"/>
<path d="M188.31 1538.44L194.90 1542.36M190.13 1537.17L196.72 1541.10M191.96 1535.91L198.54 1539.84M193.78 1534.65L200.37 1538.58M195.60 1533.39L202.19 1537.31M197.42 1532.13L204.01 1536.05M199.24 1530.87L205.83 1534.79M201.07 1529.61L207.65 1533.53" stroke="#1a1a1a" stroke-width="0.85" fill="none"/>
<path d="M206.15 1529.61L204.32 1542.36" stroke="#1a1a1a" stroke-width="0.83" fill="none"/>
<path d="M207.76 1529.61L206.25 1542.36" stroke="#1a1a1a" stroke-width="0.73" fill="none"/>
<path d="M209.51 1529.61L207.97 1542.36" stroke="#1a1a1a" stroke-width="0.61" fill="none"/>
<path d="M211.47 1529.61L209.57 1542.36" stroke="#1a1a1a" stroke-width="0.63" fill="none"/>
<path d="M213.22 1529.61L211.95 1542.36" stroke="#1a1a1a" stroke-width="0.64" fill="none"/>
<path d="M214.86 1529.61L213.42 1542.36" stroke="#1a1a1a" stroke-width="0.93" fill="none"/>
<path d="M216.81 1529.61L215.18 1542.36" stroke="#1a1a1a" stroke-width="0.94" fill="none"/>
<path d="M218.26 1529.61L217.02 1542.36" stroke="#1a1a1a" stroke-width="0.7" fill="none"/>
<path d="M220.07 1529.61L218.21 1542.36" stroke="#1a1a1a" stroke-width="0.71" fill="none"/>
<path d="M217.11 1528.91L222.23 1541.52M218.80 1529.75L223.91 1541.52M220.48 1530.59L225.59 1541.52M222.16 1531.43L227.28 1541.52M223.84 1532.27L228.96 1541.52" stroke="#1a1a1a" stroke-width="0.75" fill="none"/>
<rect x="202.12" y="1542.78" width="27.33" height="12.05" fill="#8c8c8c" fill-opacity="0.55"/>
<path d="M203.38 1543.76L206.74 1544.32M203.38 1545.58L206.74 1546.14M203.38 1547.41L206.74 1547.97M203.38 1549.23L206.74 1549.79M203.38 1551.05L206.74 1551.61M203.38 1552.87L206.74 1553.43M206.60 1543.76L209.97 1544.32M206.60 1545.58L209.97 1546.14M206.60 1547.41L209.97 1547.97M206.60 1549.23L209.97 1549.79M206.60 1551.05L209.97 1551.61M206.60 1552.87L209.97 1553.43M219.92 1543.76L223.28 1544.32M219.92 1545.58L223.28 1546.14M219.92 1547.41L223.28 1547.97M219.92 1549.23L223.28 1549.79M219.92 1551.05L223.28 1551.61M219.92 1552.87L223.28 1553.43M225.52 1543.76L228.89 1544.32M225.52 1545.58L228.89 1546.14M225.52 1547.41L228.89 1547.97M225.52 1549.23L228.89 1549.79M225.52 1551.05L228.89 1551.61M225.52 1552.87L228.89 1553.43" stroke="#444" stroke-width="0.6" fill="none"/>
<path d="M209.13 1538.37C210.06 1537.84 214.15 1537.61 215.43 1538.02C216.72 1538.42 217.77 1540.29 216.83 1540.82C215.90 1541.34 211.11 1541.58 209.83 1541.17C208.54 1540.76 208.19 1538.89 209.13 1538.37Z" fill="#f0f0f0" fill-opacity="0.7"/>
<path d="M190.20 1539.77C190.61 1539.12 192.54 1538.63 193.71 1539.07C194.88 1539.50 196.86 1541.08 197.21 1542.36C197.56 1543.64 196.57 1546.10 195.81 1546.78C195.05 1547.45 193.42 1547.07 192.66 1546.42C191.90 1545.78 191.66 1544.03 191.26 1542.92C190.85 1541.81 189.80 1540.41 190.20 1539.77Z" fill="#8a8a8a" fill-opacity="0.75"/>
<path d="M224.54 1535.56C224.75 1535.00 225.66 1535.47 226.08 1536.05C226.50 1536.64 226.93 1537.75 227.07 1539.07C227.21 1540.39 227.21 1543.27 226.93 1543.97C226.64 1544.67 225.73 1544.03 225.38 1543.27C225.03 1542.51 224.96 1540.70 224.82 1539.42C224.68 1538.13 224.33 1536.12 224.54 1535.56Z" fill="#111"/>
<path d="M192.45 1546.78C192.89 1546.54 194.50 1546.33 194.97 1546.56C195.44 1546.80 195.51 1547.78 195.25 1548.18C194.99 1548.57 193.92 1548.98 193.43 1548.95C192.94 1548.91 192.47 1548.33 192.31 1547.97C192.14 1547.60 192.00 1547.01 192.45 1546.78Z" fill="#333"/>
<ellipse cx="204.36" cy="1553.57" rx="1.0" ry="0.7" fill="#333"/>
<ellipse cx="208.28" cy="1554.13" rx="1.0" ry="0.7" fill="#333"/>
<ellipse cx="221.04" cy="1553.57" rx="1.0" ry="0.7" fill="#333"/>
<ellipse cx="227.35" cy="1553.92" rx="1.0" ry="0.7" fill="#333"/>
</g></g></g>
</g>
</svg>
</body></html>
